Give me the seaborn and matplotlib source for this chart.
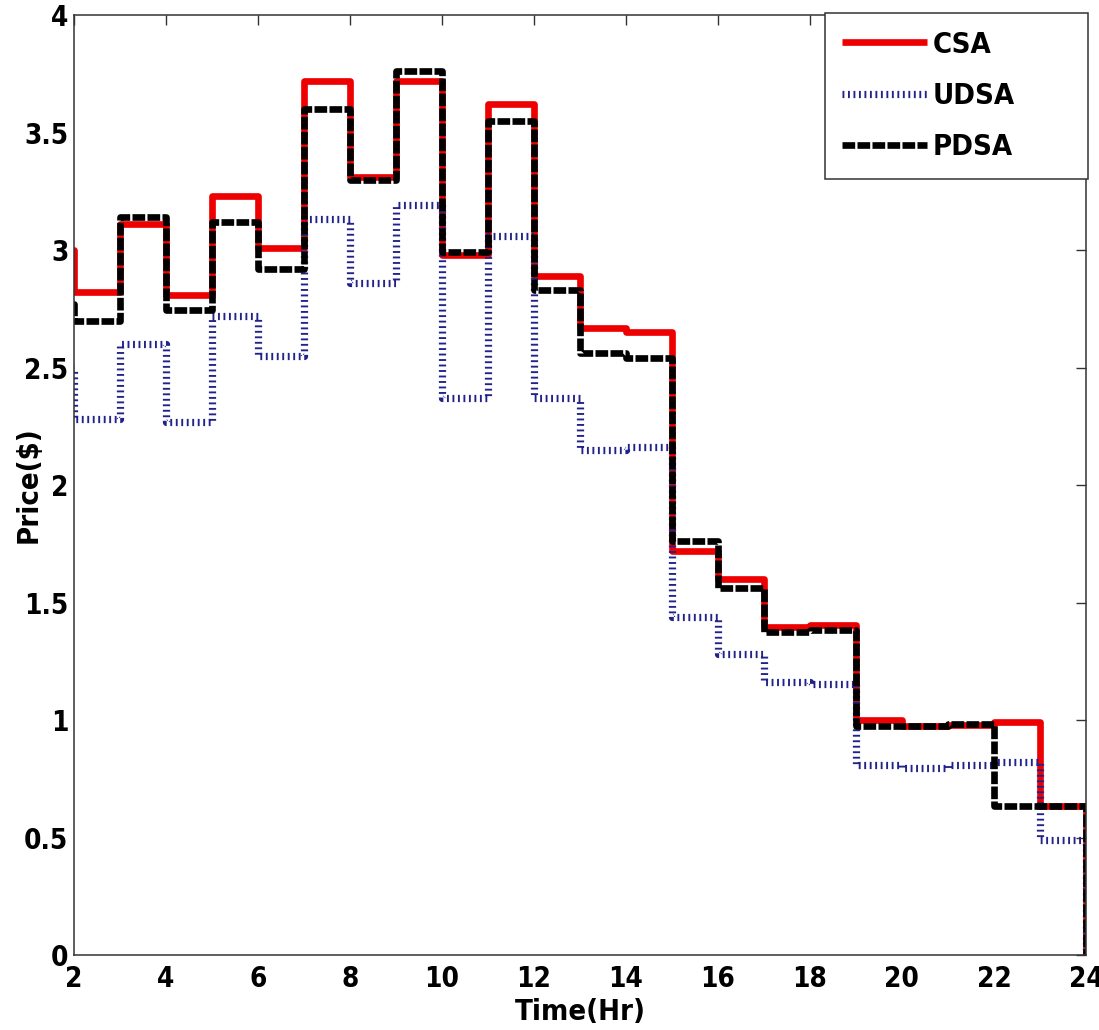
import matplotlib
matplotlib.use("Agg")
import matplotlib.pyplot as plt
from matplotlib import font_manager
import seaborn as sns

# Hourly price per scheduling algorithm (stairs: value holds from hour h to h+1)
hours = list(range(1, 25))
csa = [3.00, 2.82, 3.11, 2.81, 3.23, 3.01, 3.72, 3.31, 3.72, 2.98, 3.62, 2.89,
       2.67, 2.65, 1.72, 1.60, 1.395, 1.405, 1.00, 0.975, 0.98, 0.99, 0.635, 0.0]
udsa = [2.50, 2.28, 2.60, 2.27, 2.72, 2.55, 3.13, 2.86, 3.19, 2.37, 3.06, 2.37,
        2.15, 2.16, 1.44, 1.28, 1.16, 1.155, 0.81, 0.795, 0.81, 0.82, 0.49, 0.0]
pdsa = [2.77, 2.70, 3.14, 2.745, 3.12, 2.92, 3.60, 3.30, 3.76, 2.99, 3.55, 2.83,
        2.56, 2.54, 1.76, 1.56, 1.375, 1.385, 0.975, 0.975, 0.985, 0.634, 0.634, 0.0]

series_names = ["CSA", "UDSA", "PDSA"]
x_ticks = list(range(2, 25, 2))
y_ticks = [0, 0.5, 1, 1.5, 2, 2.5, 3, 3.5, 4]

sns.set_style("white")

# Prefer a condensed bold face when one is installed
condensed = [f for f in font_manager.fontManager.ttflist
             if f.name == "DejaVu Sans" and str(f.stretch) in
             ("condensed", "semi-condensed", "500", "600", "700")]
if condensed:
    plt.rcParams["font.family"] = ["DejaVu Sans"]
    plt.rcParams["font.stretch"] = "condensed"
    base_size = 20
else:
    plt.rcParams["font.family"] = ["Liberation Sans", "DejaVu Sans"]
    base_size = 19
plt.rcParams["font.weight"] = "bold"
plt.rcParams["text.color"] = "black"
plt.rcParams["axes.labelcolor"] = "black"
plt.rcParams["xtick.labelcolor"] = "black"
plt.rcParams["ytick.labelcolor"] = "black"

fig = plt.figure(figsize=(10.99, 10.30), dpi=100)
ax = fig.add_axes([0.0673, 0.0728, 0.9208, 0.9126])

sns.lineplot(x=hours, y=csa, ax=ax, color="#ee0000", linewidth=4.8,
             drawstyle="steps-post", solid_capstyle="butt", label=series_names[0])
sns.lineplot(x=hours, y=udsa, ax=ax, color="#22228a", linewidth=5.2,
             linestyle=(0, (0.26, 0.5)), dash_capstyle="butt",
             drawstyle="steps-post", label=series_names[1])
sns.lineplot(x=hours, y=pdsa, ax=ax, color="black", linewidth=4.8,
             linestyle=(0, (1.9, 0.35)), dash_capstyle="butt",
             drawstyle="steps-post", label=series_names[2])

ax.set_xlim(2, 24)
ax.set_ylim(0, 4)
ax.set_xticks(x_ticks)
ax.set_yticks(y_ticks)
ax.set_xticklabels([str(t) for t in x_ticks])
ax.set_yticklabels([f"{t:g}" for t in y_ticks])

ax.tick_params(direction="in", top=True, right=True, length=7, width=1,
               color="#333333", labelcolor="black", labelsize=base_size)
ax.tick_params(axis="x", pad=7)
ax.tick_params(axis="y", pad=4)
for lab in ax.get_xticklabels() + ax.get_yticklabels():
    lab.set_fontweight("bold")

for s in ax.spines.values():
    s.set_visible(True)
    s.set_color("#333333")
    s.set_linewidth(1.1)

ax.set_xlabel("Time(Hr)", fontsize=base_size + 1, fontweight="bold", labelpad=4,
              color="black")
ax.set_ylabel("Price($)", fontsize=base_size + 1, fontweight="bold", color="black")
ax.yaxis.set_label_coords(-0.031, 0.5)

leg = ax.legend(loc="upper left", bbox_to_anchor=(0.742, 0.827, 0.26, 0.175),
                mode="expand", borderaxespad=0, fancybox=False,
                framealpha=1, edgecolor="#333333", fontsize=base_size + 1,
                handlelength=2.9, handletextpad=0.2, labelspacing=0.8,
                borderpad=0.6)
leg.get_frame().set_linewidth(1.1)
for t in leg.get_texts():
    t.set_fontweight("bold")
    t.set_color("black")

fig.savefig("out.png", dpi=100)
